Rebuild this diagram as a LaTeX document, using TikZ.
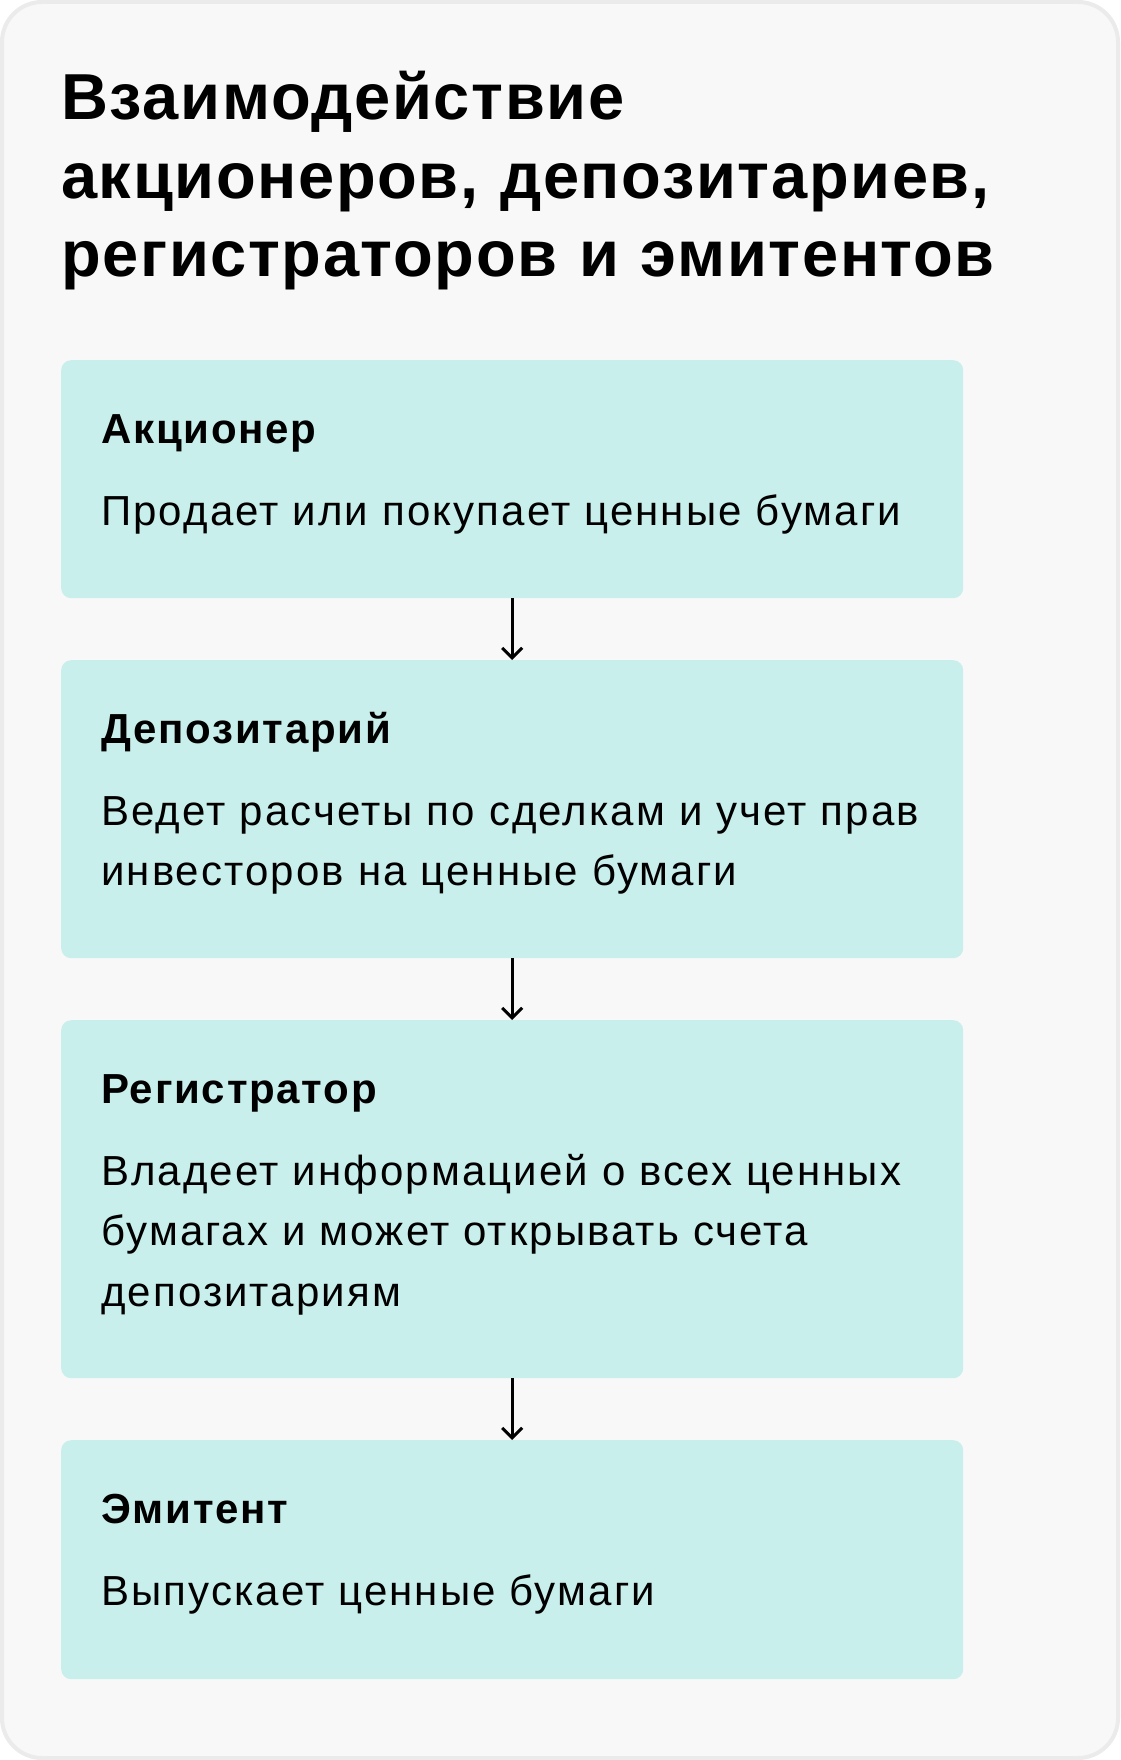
\documentclass[tikz,border=0pt]{standalone}
\usepackage{fontspec}
\setmainfont{Liberation Sans}
\usetikzlibrary{arrows.meta,positioning}
\definecolor{cardbg}{HTML}{F8F8F8}
\definecolor{cardline}{HTML}{EBEBEB}
\definecolor{stagefill}{HTML}{C8EFEC}
\tikzset{
  card/.style={draw=cardline, fill=cardbg, line width=4pt, rounded corners=40pt},
  stage/.style={fill=stagefill, rounded corners=10pt, inner sep=0pt, minimum width=902pt, anchor=north west},
  headline/.style={anchor=base west, inner sep=0pt, align=left, text width=1000pt, font=\fontsize{65}{78.5}\selectfont\bfseries\addfontfeatures{LetterSpace=2.5}},
  stagename/.style={anchor=base west, inner sep=0pt, font=\fontsize{42}{60}\selectfont\bfseries\addfontfeatures{LetterSpace=4.2}},
  stagetext/.style={anchor=base west, inner sep=0pt, align=left, text width=880pt, font=\fontsize{42}{60.5}\selectfont\addfontfeatures{LetterSpace=5}},
  arrow/.style={-{Straight Barb[length=10pt,width=20pt]}, line width=3pt}
}
\begin{document}
\begin{tikzpicture}[x=1pt,y=-1pt]
  \useasboundingbox (0,0) rectangle (1120,1760);
  \draw[card] (2,2) rectangle (1118,1758);
  \node[headline] (title) at (61,120) {Взаимодействие\\акционеров, депозитариев,\\регистраторов и эмитентов};
  \node[stage, minimum height=238pt] (shareholder) at (61,360) {};
  \node[stagename] (shareholder-name) at (101,443) {Акционер};
  \node[stagetext] (shareholder-text) at (101,525) {Продает или покупает ценные бумаги};
  \node[stage, minimum height=298pt] (depository) at (61,660) {};
  \node[stagename] (depository-name) at (101,743) {Депозитарий};
  \node[stagetext] (depository-text) at (101,825) {Ведет расчеты по сделкам и учет прав\\инвесторов на ценные бумаги};
  \node[stage, minimum height=358pt] (registrar) at (61,1020) {};
  \node[stagename] (registrar-name) at (101,1103) {Регистратор};
  \node[stagetext] (registrar-text) at (101,1185) {Владеет информацией о всех ценных\\бумагах и может открывать счета\\депозитариям};
  \node[stage, minimum height=239pt] (issuer) at (61,1440) {};
  \node[stagename] (issuer-name) at (101,1523) {Эмитент};
  \node[stagetext] (issuer-text) at (101,1605) {Выпускает ценные бумаги};
  \draw[arrow] (shareholder) -- (depository);
  \draw[arrow] (depository) -- (registrar);
  \draw[arrow] (registrar) -- (issuer);
\end{tikzpicture}
\end{document}
